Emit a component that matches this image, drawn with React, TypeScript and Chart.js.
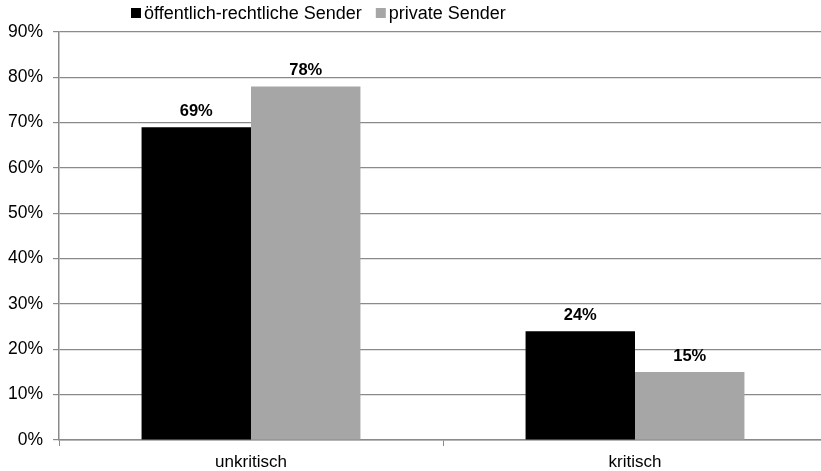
import React, { useEffect, useRef } from "react";
import { Chart, registerables } from "chart.js";

Chart.register(...registerables);

const categories = ["unkritisch", "kritisch"];
const seriesNames = ["öffentlich-rechtliche Sender", "private Sender"];
const oeffentlich = [69, 24];
const privat = [78, 15];
const yTicks = [0, 10, 20, 30, 40, 50, 60, 70, 80, 90];

const colors = ["#000000", "#a6a6a6"];
const gridColor = "#8a8a8a";
const FONT = "'Liberation Sans', Arial, sans-serif";

const legendPlugin = {
  id: "customLegend",
  afterDraw(chart: any) {
    const ctx = chart.ctx;
    ctx.save();
    ctx.font = `18px ${FONT}`;
    ctx.textBaseline = "middle";
    let x = 131;
    const y = 14;
    chart.data.datasets.forEach((ds: any) => {
      ctx.fillStyle = ds.backgroundColor;
      ctx.fillRect(x, y - 6, 10, 10);
      ctx.fillStyle = "#000";
      ctx.fillText(ds.label, x + 13, y);
      x += 13 + ctx.measureText(ds.label).width + 14;
    });
    ctx.restore();
  },
};

const labelPlugin = {
  id: "barLabels",
  afterDatasetsDraw(chart: any) {
    const ctx = chart.ctx;
    ctx.save();
    ctx.font = `bold 16.5px ${FONT}`;
    ctx.fillStyle = "#000";
    ctx.textAlign = "center";
    ctx.textBaseline = "alphabetic";
    chart.data.datasets.forEach((ds: any, di: number) => {
      chart.getDatasetMeta(di).data.forEach((bar: any, i: number) => {
        ctx.fillText(ds.data[i] + "%", bar.x, bar.y - 11);
      });
    });
    ctx.restore();
  },
};

export default function App() {
  const ref = useRef<HTMLCanvasElement>(null);
  useEffect(() => {
    document.body.style.overflow = "hidden";
    const chart = new Chart(ref.current!, {
      type: "bar",
      data: {
        labels: categories,
        datasets: [
          { label: seriesNames[0], data: oeffentlich, backgroundColor: colors[0] },
          { label: seriesNames[1], data: privat, backgroundColor: colors[1] },
        ],
      },
      options: {
        animation: false,
        responsive: false,
        layout: { padding: { top: 32, right: 0, left: 0, bottom: 0 } },
        plugins: { legend: { display: false }, tooltip: { enabled: false } },
        datasets: { bar: { categoryPercentage: 0.57, barPercentage: 1 } },
        scales: {
          x: {
            grid: {
              offset: true,
              drawOnChartArea: false,
              color: gridColor,
              tickLength: 6,
            },
            border: { color: gridColor, width: 1.5 },
            ticks: { color: "#000", font: { family: FONT, size: 17 }, padding: 6 },
            afterFit(axis: any) {
              axis.height = 31;
            },
          },
          y: {
            min: 0,
            max: 90,
            afterBuildTicks(axis: any) {
              axis.ticks = yTicks.map((v) => ({ value: v }));
            },
            grid: { color: gridColor, lineWidth: 1.2, tickLength: 6 },
            border: { color: gridColor, width: 1.5 },
            ticks: {
              color: "#000",
              font: { family: FONT, size: 17.5 },
              padding: 10,
              callback: (v: any) => v + "%",
            },
            afterFit(axis: any) {
              axis.width = 59;
            },
          },
        },
      },
      plugins: [legendPlugin, labelPlugin],
    });
    return () => chart.destroy();
  }, []);
  return (
    <div style={{ position: "absolute", left: 0, top: 0, width: 827, height: 471 }}>
      <canvas ref={ref} width={827} height={471} style={{ width: 827, height: 471 }} />
    </div>
  );
}
